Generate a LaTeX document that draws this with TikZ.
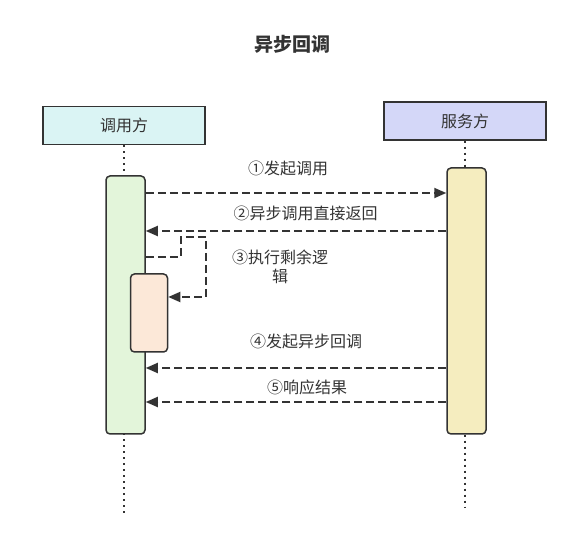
\documentclass[tikz,border=0pt]{standalone}
\usepackage{fontspec}
\setmainfont{Noto Sans CJK SC}
\usetikzlibrary{arrows.meta}
\definecolor{ink}{HTML}{333333}
\definecolor{cyanfill}{HTML}{DAF4F4}
\definecolor{lavfill}{HTML}{D4D7F8}
\definecolor{greenfill}{HTML}{E3F5DA}
\definecolor{yellowfill}{HTML}{F5EDBF}
\definecolor{orangefill}{HTML}{FCE8D8}
\tikzset{
  actor/.style={draw=ink, line width=1.5pt, inner sep=0pt, font=\fontsize{16}{19}\selectfont, text=ink},
  actbox/.style={draw=ink, line width=1.5pt, rounded corners=4pt, inner sep=0pt},
  msg/.style={draw=ink, line width=1.8pt, dash pattern=on 8pt off 4pt, -{Triangle[length=12pt,width=10pt]}},
  life/.style={draw=ink, line width=2.2pt, dash pattern=on 2pt off 4pt},
  lbl/.style={text=ink, font=\fontsize{16}{19}\selectfont, inner sep=0pt}
}
\begin{document}
\begin{tikzpicture}[x=1pt,y=-1pt]
\useasboundingbox (0,0) rectangle (563,537);
\node[text=ink, font=\fontsize{19}{22}\selectfont\bfseries] (title) at (292,44) {异步回调};
\node[actor, fill=cyanfill, minimum width=162pt, minimum height=38pt] (caller) at (124,125.5) {调用方};
\node[actor, fill=lavfill, minimum width=162pt, minimum height=38pt] (server) at (465,121) {服务方};
\coordinate (cend) at (124,513);
\coordinate (send) at (465,508);
% lifelines, drawn under the activation boxes
\draw[life] (caller.south) -- (cend);
\draw[life] (server.south) -- (send);
% activation boxes
\node[actbox, fill=greenfill, minimum width=39pt, minimum height=258pt] (la) at (125.5,305) {};
\node[actbox, fill=yellowfill, minimum width=39pt, minimum height=266pt] (ra) at (466.5,301) {};
\node[actbox, fill=orangefill, minimum width=37pt, minimum height=78pt] (ob) at (149,313) {};
% message levels
\coordinate (y1) at (0,193);
\coordinate (y2) at (0,231);
\coordinate (y3a) at (0,257);
\coordinate (y3b) at (0,297);
\coordinate (y4) at (0,368);
\coordinate (y5) at (0,402);
\draw[msg] (la.east |- y1) -- (ra.west |- y1);
\draw[msg] (ra.west |- y2) -- (la.east |- y2);
\draw[msg] (la.east |- y3a) -- ++(35,0) -- ++(0,-20) -- ++(25,0) -- ++(0,60) -- (ob.east |- y3b);
\draw[msg] (ra.west |- y4) -- (la.east |- y4);
\draw[msg] (ra.west |- y5) -- (la.east |- y5);
% labels
\node[lbl] (l1) at (288,168) {①发起调用};
\node[lbl] (l2) at (305.5,213) {②异步调用直接返回};
\node[lbl, align=center] (l3) at (280,267) {③执行剩余逻\\辑};
\node[lbl] (l4) at (306,341) {④发起异步回调};
\node[lbl] (l5) at (307,387) {⑤响应结果};
\end{tikzpicture}
\end{document}
